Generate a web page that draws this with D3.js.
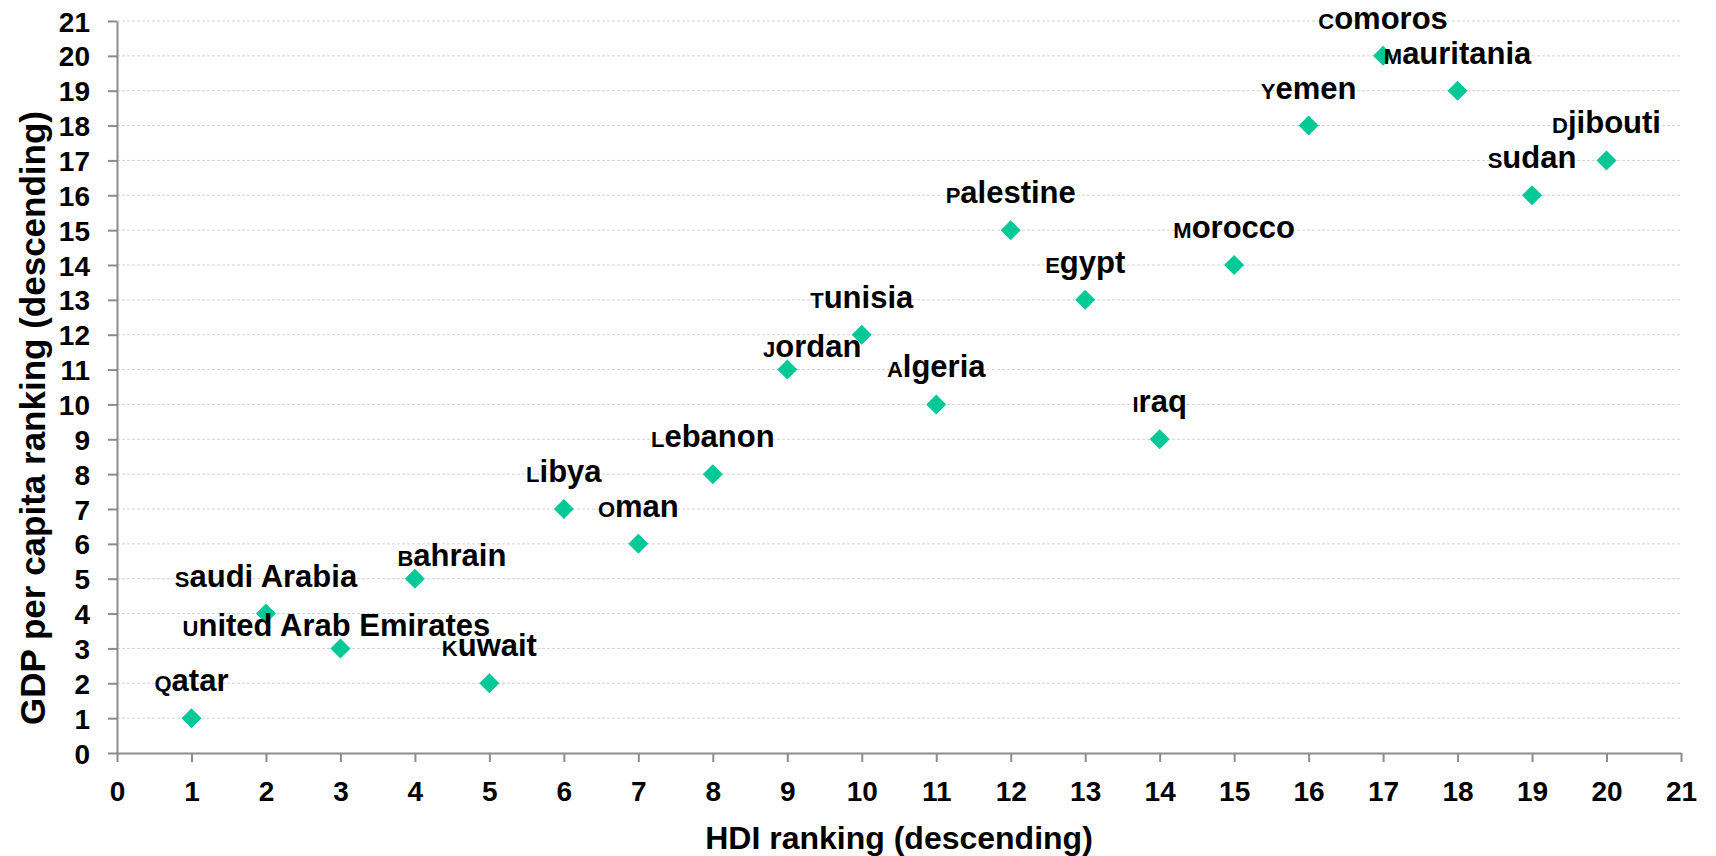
<!DOCTYPE html>
<html>
<head>
<meta charset="utf-8">
<script src="https://cdn.jsdelivr.net/npm/d3@7"></script>
<style>
  html, body { margin: 0; padding: 0; background: #fff; }
  svg text { font-family: "Liberation Sans", Arial, sans-serif; font-weight: bold; fill: #000; }
</style>
</head>
<body>
<svg id="chart" width="1716" height="856"></svg>
<script>
// data: HDI rank vs GDP per capita rank
const countries = ["Qatar", "Saudi Arabia", "United Arab Emirates", "Bahrain", "Kuwait", "Libya", "Oman",
                   "Lebanon", "Jordan", "Tunisia", "Algeria", "Palestine", "Egypt", "Iraq", "Morocco",
                   "Yemen", "Comoros", "Mauritania", "Sudan", "Djibouti"]
const hdiRank = [1, 2, 3, 4, 5, 6, 7, 8, 9, 10, 11, 12, 13, 14, 15, 16, 17, 18, 19, 20]
const gdpRank = [1, 4, 3, 5, 2, 7, 6, 8, 11, 12, 10, 15, 13, 9, 14, 18, 20, 19, 16, 17]
const xTicks = d3.range(0, 22)
const yTicks = d3.range(0, 22)

const points = countries.map((name, i) => ({name, x: hdiRank[i], y: gdpRank[i]}))

plotChart(points)

function plotChart(data) {
    const svg = d3.select("#chart")
    const margin = {left: 117, right: 35, top: 21, bottom: 103}
    const width = +svg.attr("width")
    const height = +svg.attr("height")
    const axisColor = "#8c8c8c"
    const marker = "#00c896"

    const x = d3.scaleLinear().domain([0, 21]).range([margin.left, width - margin.right])
    const y = d3.scaleLinear().domain([0, 21]).range([height - margin.bottom, margin.top])

    // grid
    svg.append("g")
        .selectAll("line")
        .data(yTicks.filter(d => d > 0))
        .join("line")
        .attr("x1", x(0))
        .attr("x2", x(21))
        .attr("y1", d => y(d))
        .attr("y2", d => y(d))
        .attr("stroke", "#d4d4d4")
        .attr("stroke-width", 1)
        .attr("stroke-dasharray", "3,2")

    const xAxis = svg.append("g")
        .attr("transform", `translate(0,${y(0)})`)
        .call(d3.axisBottom(x).tickValues(xTicks).tickFormat(d3.format("d")).tickSizeInner(9).tickSizeOuter(0).tickPadding(14))
    const yAxis = svg.append("g")
        .attr("transform", `translate(${x(0)},0)`)
        .call(d3.axisLeft(y).tickValues(yTicks).tickFormat(d3.format("d")).tickSizeInner(9).tickSizeOuter(0).tickPadding(18))

    for (const ax of [xAxis, yAxis]) {
        ax.select(".domain").attr("stroke", axisColor).attr("stroke-width", 2)
        ax.selectAll(".tick line").attr("stroke", axisColor).attr("stroke-width", 2)
        ax.selectAll(".tick text")
            .style("font-size", "28px")
            .style("font-family", '"Liberation Sans", Arial, sans-serif')
            .style("font-weight", "bold")
            .attr("fill", "#000")
    }
    yAxis.selectAll(".tick text").attr("dy", "0.36em")
    xAxis.selectAll(".tick text").attr("dy", "0.9em")

    // axis titles
    svg.append("text")
        .attr("x", (x(0) + x(21)) / 2)
        .attr("y", 849)
        .attr("text-anchor", "middle")
        .style("font-size", "32px")
        .text("HDI ranking (descending)")

    svg.append("text")
        .attr("transform", "translate(45,418) rotate(-90)")
        .attr("text-anchor", "middle")
        .style("font-size", "35px")
        .text("GDP per capita ranking (descending)")

    // markers
    svg.append("g")
        .selectAll("path")
        .data(data)
        .join("path")
        .attr("d", d3.symbol(d3.symbolSquare, 200))
        .attr("transform", d => `translate(${x(d.x)},${y(d.y)}) rotate(45)`)
        .attr("fill", marker)

    // labels: centred above the point, a few nudged like the original
    const nudge = {
        "United Arab Emirates": [-4, 15],
        "Bahrain": [37, 14],
        "Jordan": [25, 14]
    }
    const labels = svg.append("g")
        .selectAll("text")
        .data(data)
        .join("text")
        .attr("x", d => x(d.x) + (nudge[d.name] ? nudge[d.name][0] : 0))
        .attr("y", d => y(d.y) - 27 + (nudge[d.name] ? nudge[d.name][1] : 0))
        .attr("text-anchor", "middle")
        .style("font-size", "31px")

    labels.append("tspan")
        .style("font-size", "22px")
        .text(d => d.name[0])
    labels.append("tspan")
        .text(d => d.name.slice(1))
}
</script>
</body>
</html>
